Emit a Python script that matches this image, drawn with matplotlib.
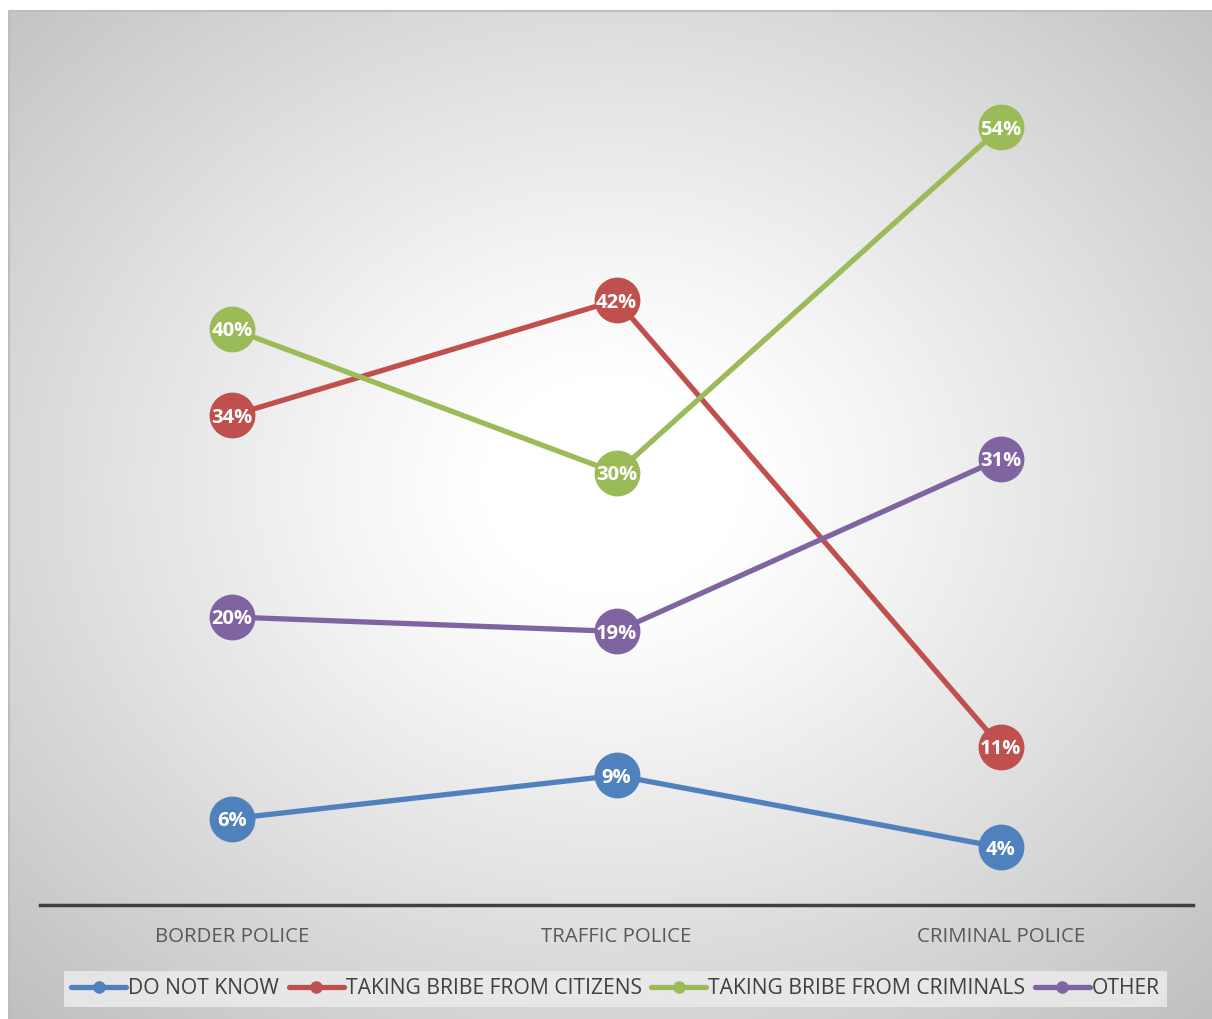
import numpy as np
import matplotlib
matplotlib.use("Agg")
import matplotlib.pyplot as plt
from matplotlib.lines import Line2D

categories = ["BORDER POLICE", "TRAFFIC POLICE", "CRIMINAL POLICE"]
series_names = ["DO NOT KNOW", "TAKING BRIBE FROM CITIZENS", "TAKING BRIBE FROM CRIMINALS", "OTHER"]
do_not_know = [6, 9, 4]
from_citizens = [34, 42, 11]
from_criminals = [40, 30, 54]
other = [20, 19, 31]
colors = ["#4F81BD", "#C0504D", "#9BBB59", "#8064A2"]

W, H = 1212, 1019
fig = plt.figure(figsize=(W / 100, H / 100), dpi=100)
fig.patch.set_facecolor("white")

# background radial gradient for chart area
bg = fig.add_axes([9 / W, 0, (W - 9) / W, (H - 11) / H])
bg.set_axis_off()
ny, nx = 400, 480
yy, xx = np.mgrid[0:ny, 0:nx]
cx, cy = nx * 0.50, ny * 0.47
d = np.sqrt(((xx - cx) / nx) ** 2 + ((yy - cy) / ny) ** 2)
d = d / d.max()
v = 1.0 - 0.25 * np.clip((d - 0.15) / 0.85, 0, 1) ** 1.1
img = np.dstack([v, v, v])
bg.imshow(img, aspect="auto", extent=[0, 1, 0, 1], interpolation="bilinear")
bg.set_xlim(0, 1); bg.set_ylim(0, 1)
bg.plot([0, 0, 1], [0, 1, 1], color="#bdbdbd", lw=1.5, transform=bg.transAxes, clip_on=False)

ax = fig.add_axes([40 / W, 1 - 905 / H, (1193 - 40) / W, (905 - 41) / H])
ax.patch.set_alpha(0)
x = np.arange(len(categories))
all_series = [do_not_know, from_citizens, from_criminals, other]
for vals, c in zip(all_series, colors):
    y = np.array(vals) / 100.0
    ax.plot(x, y, color=c, lw=3.8, marker="o", markersize=33, markeredgewidth=0,
            solid_capstyle="round", zorder=3)
    for xi, yi, vv in zip(x, y, vals):
        ax.text(xi, yi, f"{vv}%", color="white", fontsize=14.5, fontweight="bold",
                ha="center", va="center_baseline", family="Open Sans", zorder=4)

ax.set_xlim(-0.5, 2.5)
ax.set_ylim(0, 0.6)
for s in ["top", "right", "left"]:
    ax.spines[s].set_visible(False)
ax.spines["bottom"].set_color("#404040")
ax.spines["bottom"].set_linewidth(2.5)
ax.set_yticks([])
ax.set_xticks(x)
ax.set_xticklabels(categories, fontsize=14.7, color="#595959", family="Open Sans")
ax.tick_params(axis="x", length=0, pad=16)

handles = [Line2D([0], [0], color=c, lw=3.8, marker="o", markersize=8, solid_capstyle="round")
           for c in colors]
leg = fig.legend(handles, series_names, loc="center", bbox_to_anchor=(615.5 / W, 1 - 989 / H),
                 ncol=4, frameon=True, handlelength=2.6, handletextpad=0.1,
                 columnspacing=0.45, borderpad=0.35, prop={"family": "Open Sans", "size": 15.2})
leg.get_frame().set_facecolor("#ebebeb")
leg.get_frame().set_edgecolor("none")
leg.get_frame().set_alpha(0.85)
leg.get_frame().set_boxstyle("square", pad=0)
for t in leg.get_texts():
    t.set_color("#404040")

fig.savefig("out.png", dpi=100)
